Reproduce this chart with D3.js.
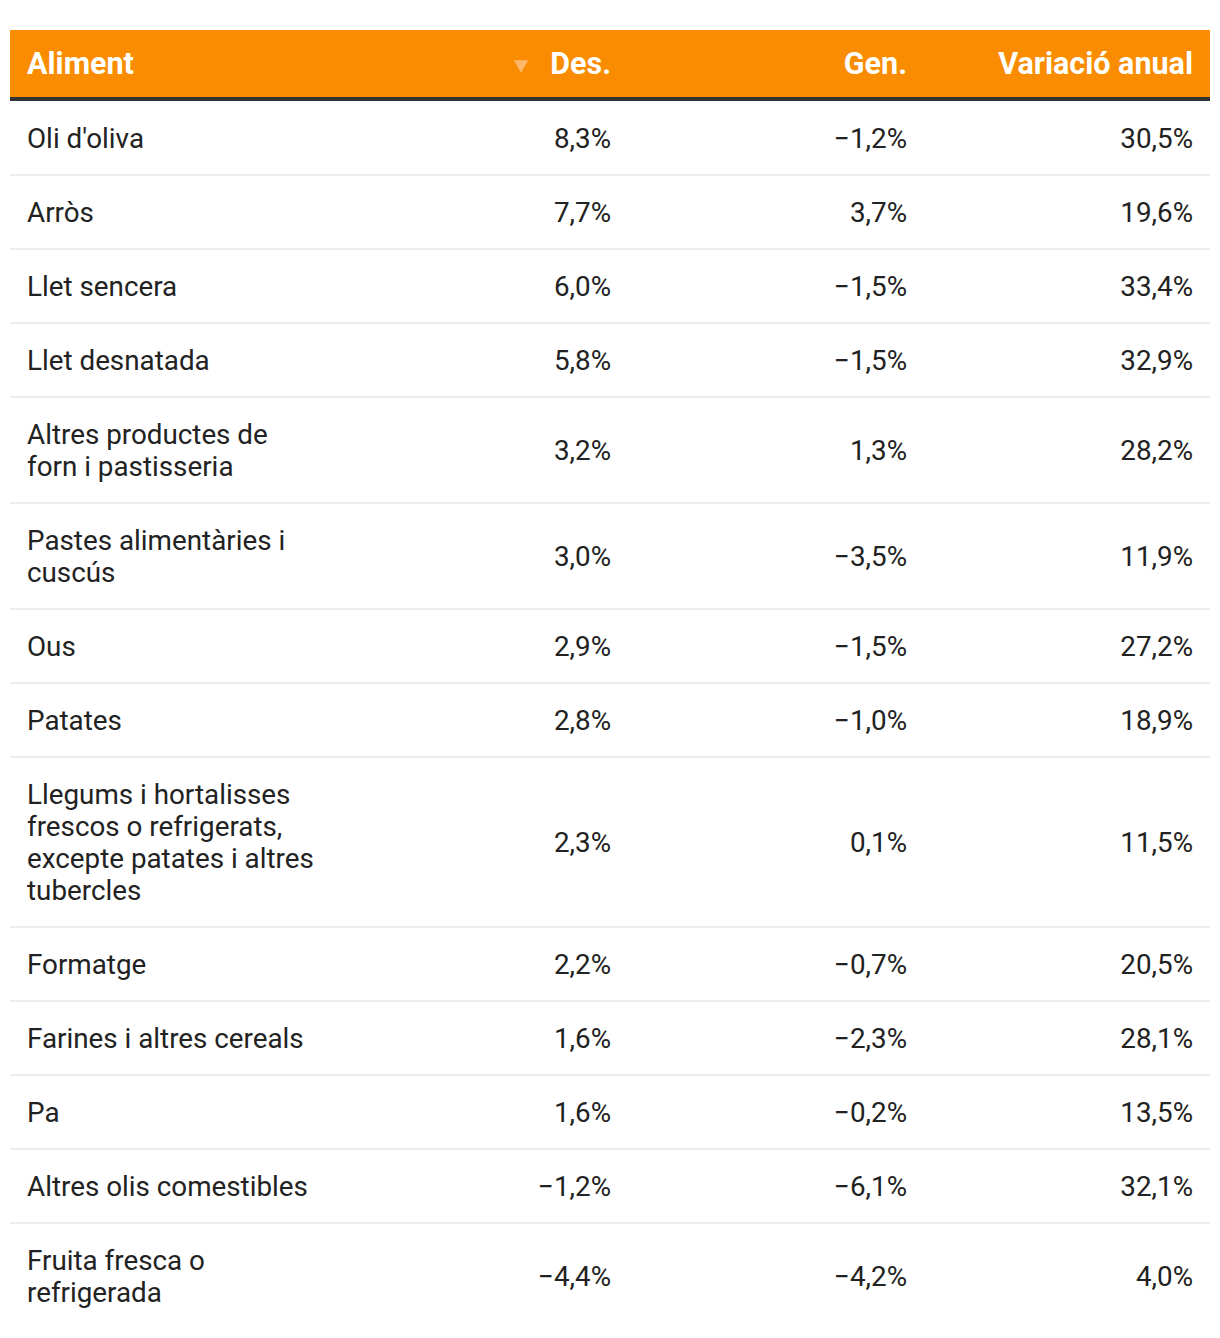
<!DOCTYPE html>
<html><head><meta charset="utf-8">
<script src="https://cdn.jsdelivr.net/npm/d3@7"></script>
<style>
html,body{margin:0;padding:0;background:#fff;}
svg{display:block;font-family:Roboto,"Noto Sans",sans-serif;}
</style></head>
<body>
<script>
const columns = ["Aliment", "Des.", "Gen.", "Variació anual"];
const foods = ["Oli d'oliva","Arròs","Llet sencera","Llet desnatada","Altres productes de forn i pastisseria","Pastes alimentàries i cuscús","Ous","Patates","Llegums i hortalisses frescos o refrigerats, excepte patates i altres tubercles","Formatge","Farines i altres cereals","Pa","Altres olis comestibles","Fruita fresca o refrigerada"];
const des = [8.3,7.7,6.0,5.8,3.2,3.0,2.9,2.8,2.3,2.2,1.6,1.6,-1.2,-4.4];
const gen = [-1.2,3.7,-1.5,-1.5,1.3,-3.5,-1.5,-1.0,0.1,-0.7,-2.3,-0.2,-6.1,-4.2];
const annual = [30.5,19.6,33.4,32.9,28.2,11.9,27.2,18.9,11.5,20.5,28.1,13.5,32.1,4.0];

const W = 1220, H = 1338;
const left = 10, right = 1210;
const headTop = 30, headH = 67, borderH = 4;
const lineH = 32, padV = 42, wrapW = 292;
const bodyFont = 27.8, headFont = 30.5;
const fmt = v => (v < 0 ? "\u2212" : "") + Math.abs(v).toFixed(1).replace(".", ",") + "%";

const svg = d3.select("body").append("svg").attr("width", W).attr("height", H);

// header
svg.append("rect").attr("x", left).attr("y", headTop).attr("width", right-left).attr("height", headH).attr("fill", "#f98c00");
svg.append("rect").attr("x", left).attr("y", headTop+headH).attr("width", right-left).attr("height", borderH).attr("fill", "#333333");

const colX = [27, 611, 907, 1193];
const colAnchor = ["start","end","end","end"];
svg.selectAll("text.head").data(columns).join("text")
  .attr("class","head")
  .attr("x",(d,i)=>colX[i]).attr("y", headTop + headH/2)
  .attr("dy","0.36em")
  .attr("text-anchor",(d,i)=>colAnchor[i])
  .attr("fill","#fff").attr("font-weight","bold").attr("font-size",headFont)
  .text(d=>d);
// sort arrow
svg.append("path").attr("d", d3.symbol(d3.symbolTriangle, 90)())
  .attr("transform", `translate(521,${headTop+headH/2+1}) rotate(180)`)
  .attr("fill","#fcb76b");

// body rows
const measure = svg.append("text").attr("font-size",bodyFont).attr("visibility","hidden");
function wrap(str){
  const words = str.split(" "); const lines=[]; let cur="";
  words.forEach(w=>{
    const t = cur ? cur+" "+w : w;
    measure.text(t);
    if (cur && measure.node().getComputedTextLength() > wrapW){ lines.push(cur); cur = w; }
    else cur = t;
  });
  if (cur) lines.push(cur);
  return lines;
}
const rows = foods.map((f,i)=>({f, lines: wrap(f), d: des[i], g: gen[i], a: annual[i]}));
measure.remove();
let y = headTop + headH + borderH;
rows.forEach(r=>{ r.y0 = y; r.h = padV + lineH*r.lines.length; y += r.h; });

const g = svg.append("g");
const rg = g.selectAll("g.row").data(rows).join("g").attr("class","row")
  .attr("transform", d=>`translate(0,${d.y0})`);
rg.filter((d,i)=>i<rows.length-1).append("rect")
  .attr("x", left).attr("y", d=>d.h-1).attr("width", right-left).attr("height",2).attr("fill","#ececec");
rg.append("text").attr("x", colX[0]).attr("font-size",bodyFont).attr("fill","#222")
  .each(function(d){
    const t = d3.select(this);
    const start = d.h/2 - lineH*(d.lines.length-1)/2;
    d.lines.forEach((l,k)=>t.append("tspan").attr("x",colX[0]).attr("y", start + k*lineH).attr("dy","0.36em").text(l));
  });
[["d",1],["g",2],["a",3]].forEach(([k,ci])=>{
  rg.append("text").attr("x", colX[ci]).attr("y", d=>d.h/2).attr("dy","0.36em")
    .attr("text-anchor","end").attr("font-size",bodyFont).attr("fill","#222")
    .text(d=>fmt(d[k]));
});
</script>
</body></html>
